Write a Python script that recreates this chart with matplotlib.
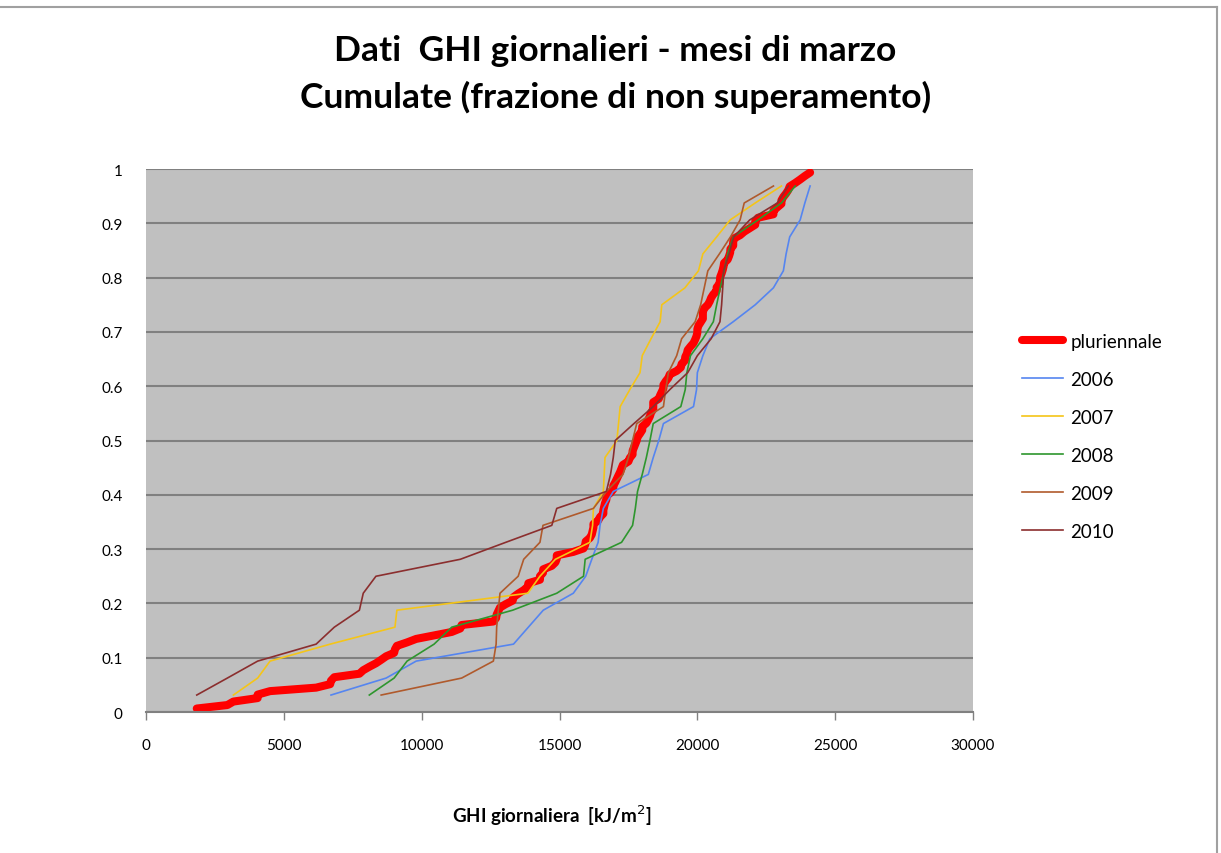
import numpy as np
import matplotlib
matplotlib.use("Agg")
import matplotlib.pyplot as plt
from matplotlib.lines import Line2D

plt.rcParams['font.family'] = ['Lato', 'DejaVu Sans']

# daily GHI values of each March, sorted (kJ/m2), 31 days per year
ghi_2006 = [6710, 8710, 9800, 13330, 13870, 14410, 15500, 15950, 16170, 16400,
            16470, 16590, 16950, 18220, 18400, 18600, 18770, 19860, 19970, 20000,
            20200, 20450, 21300, 22100, 22760, 23120, 23220, 23350, 23730, 23900, 24090]
ghi_2007 = [3170, 4050, 4500, 6680, 9030, 9100, 13850, 14290, 14850, 16100,
            16200, 16230, 16590, 16620, 16650, 17080, 17140, 17200, 17550, 17920,
            18000, 18320, 18650, 18710, 19550, 20040, 20200, 20700, 21190, 22100, 23050]
ghi_2008 = [8100, 9000, 9470, 10450, 11090, 13300, 14900, 15870, 15930, 17250,
            17650, 17750, 17830, 18000, 18150, 18280, 18400, 19400, 19560, 19620,
            19750, 20200, 20580, 20700, 20830, 20970, 21100, 21300, 22200, 23050, 23550]
ghi_2009 = [8530, 11450, 12600, 12700, 12720, 12780, 12840, 13500, 13700, 14290,
            14400, 16230, 16700, 17300, 17500, 17650, 17800, 18770, 18850, 18950,
            19250, 19430, 19920, 20120, 20250, 20380, 20800, 21200, 21550, 21700, 22760]
ghi_2010 = [1840, 2950, 4050, 6170, 6830, 7740, 7880, 8340, 11400, 13050,
            14720, 14900, 16700, 16850, 16950, 17020, 17700, 18400, 19000, 19650,
            20000, 20500, 20820, 20880, 20920, 20950, 21150, 21320, 21900, 22900, 23300]

years = ['2006', '2007', '2008', '2009', '2010']
series = [ghi_2006, ghi_2007, ghi_2008, ghi_2009, ghi_2010]
colors = ['#5585f0', '#f5c518', '#2e962e', '#b05a2c', '#8b2e2e']

# multi-year curve = all days pooled together
all_days = np.sort(np.concatenate([np.array(s) for s in series]))

fig = plt.figure(figsize=(12.21, 8.54), dpi=100)
ax = fig.add_axes([0.1196, 0.1651, 0.6773, 0.6358])
ax.set_facecolor('#c0c0c0')

# cumulative frequency (fraction of non-exceedance)
n_all = len(all_days)
f_all = np.arange(1, n_all + 1) / (n_all + 1)
ax.plot(all_days, f_all, color='#ff0000', lw=5.8, solid_capstyle='round',
        label='pluriennale', zorder=2)

for name, vals, c in zip(years, series, colors):
    n = len(vals)
    f = np.arange(1, n + 1) / (n + 1)
    ax.plot(vals, f, color=c, lw=1.2, label=name, zorder=3)

ax.set_xlim(0, 30000)
ax.set_ylim(0, 1)
ax.set_xticks(np.arange(0, 30001, 5000))
ax.set_yticks(np.arange(0, 1.01, 0.1))
ax.set_yticklabels(['0', '0.1', '0.2', '0.3', '0.4', '0.5', '0.6', '0.7', '0.8', '0.9', '1'])
ax.yaxis.grid(True, color='#808080', lw=1.5)
ax.set_axisbelow(True)
for s in ['top', 'right', 'left']:
    ax.spines[s].set_visible(False)
ax.spines['bottom'].set_color('#808080')
ax.spines['bottom'].set_linewidth(1.5)
ax.tick_params(axis='y', length=0, pad=17, labelsize=11)
ax.tick_params(axis='x', length=6, width=1, color='#808080', pad=13, labelsize=11)

fig.text(0.504, 0.940, 'Dati  GHI giornalieri - mesi di marzo', ha='center', va='center',
         fontsize=25.5, fontweight='bold')
fig.text(0.504, 0.886, 'Cumulate (frazione di non superamento)', ha='center', va='center',
         fontsize=25.5, fontweight='bold')
fig.text(0.452, 0.045, 'GHI giornaliera  [kJ/m$^2$]', ha='center', va='center',
         fontsize=13.5, fontweight='bold')

ax.legend(loc='upper left', bbox_to_anchor=(0.8305, 0.618), bbox_transform=fig.transFigure,
          frameon=False, fontsize=13.5, handlelength=2.2, labelspacing=1.12,
          handletextpad=0.4, borderaxespad=0)

# thin chart frame
fig.add_artist(Line2D([0, 0.997], [0.991, 0.991], color='#a0a0a0', lw=1.5))
fig.add_artist(Line2D([0.997, 0.997], [0, 0.991], color='#a0a0a0', lw=1.5))

fig.savefig('out.png', dpi=100)
